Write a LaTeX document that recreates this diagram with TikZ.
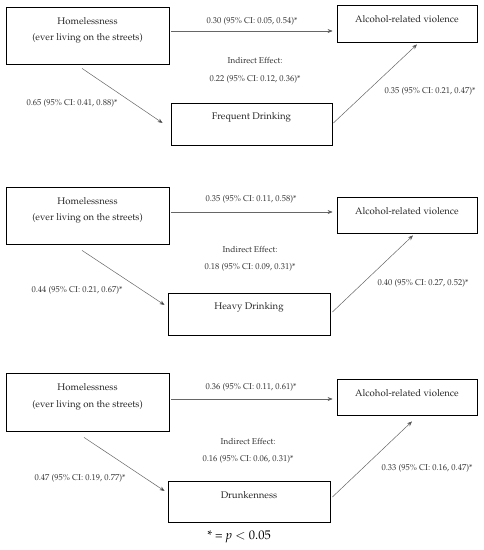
\documentclass[tikz,border=0pt]{standalone}
\usepackage[T1]{fontenc}
\usepackage{mathpazo}
\usetikzlibrary{arrows.meta}
\begin{document}
\begin{tikzpicture}[x=1pt,y=-1pt,
  box/.style={draw=black,line width=0.8pt,inner sep=0pt},
  btxt/.style={font=\fontsize{9.6}{11}\selectfont,inner sep=0pt,text=black!85},
  lab/.style={font=\fontsize{8.5}{10}\selectfont,inner sep=0pt,text=black!80},
  arr/.style={draw=black!60,line width=0.5pt,-{Stealth[length=5pt,width=4pt,fill=black]}}]
\useasboundingbox (0,0) rectangle (483,550);
% Panel 1
\node[box,minimum width=163,minimum height=57] (hom1) at (87.5,35.5) {};
\node[box,minimum width=140,minimum height=37] (alc1) at (407,23.5) {};
\node[box,minimum width=161,minimum height=42] (mid1) at (251.5,124) {};
\node[btxt] (h1a) at (87.5,21) {Homelessness};
\node[btxt] (h1b) at (87.5,38) {(ever living on the streets)};
\node[btxt] (a1t) at (407,19) {Alcohol-related violence};
\node[btxt] (m1t) at (251.5,117) {Frequent Drinking};
\draw[arr] ([shift={(2,-4.5)}]hom1.east) -- ([shift={(-4,7.5)}]alc1.west);
\draw[arr] ([shift={(-5.5,4)}]hom1.south) -- ([shift={(-8,-1)}]mid1.west);
\draw[arr] ([shift={(1,-1)}]mid1.east) -- ([shift={(10,2)}]alc1.south);
\node[lab] (l1a) at (252,21) {0.30 (95\% CI: 0.05, 0.54)*};
\node[lab] (l1b) at (72,103) {0.65 (95\% CI: 0.41, 0.88)*};
\node[lab] (l1c) at (430,91) {0.35 (95\% CI: 0.21, 0.47)*};
\node[lab] (i1a) at (255,61) {Indirect Effect:};
\node[lab] (i1b) at (255,79) {0.22 (95\% CI: 0.12, 0.36)*};
% Panel 2
\node[box,minimum width=163,minimum height=57] (hom2) at (87.5,215.5) {};
\node[box,minimum width=140,minimum height=36] (alc2) at (407,215) {};
\node[box,minimum width=162,minimum height=42] (mid2) at (249,314) {};
\node[btxt] (h2a) at (87.5,201) {Homelessness};
\node[btxt] (h2b) at (87.5,218) {(ever living on the streets)};
\node[btxt] (a2t) at (407,211) {Alcohol-related violence};
\node[btxt] (m2t) at (249,307) {Heavy Drinking};
\draw[arr] ([shift={(2,-3.5)}]hom2.east) -- ([shift={(-4,-3)}]alc2.west);
\draw[arr] ([shift={(-5.5,6)}]hom2.south) -- ([shift={(-3,-9)}]mid2.west);
\draw[arr] ([shift={(2,-2)}]mid2.east) -- ([shift={(6,2)}]alc2.south);
\node[lab] (l2a) at (251,199) {0.35 (95\% CI: 0.11, 0.58)*};
\node[lab] (l2b) at (77,290) {0.44 (95\% CI: 0.21, 0.67)*};
\node[lab] (l2c) at (423,283) {0.40 (95\% CI: 0.27, 0.52)*};
\node[lab] (i2a) at (250,250) {Indirect Effect:};
\node[lab] (i2b) at (250,267) {0.18 (95\% CI: 0.09, 0.31)*};
% Panel 3
\node[box,minimum width=163,minimum height=58] (hom3) at (87.5,402) {};
\node[box,minimum width=140,minimum height=36] (alc3) at (407,397) {};
\node[box,minimum width=162,minimum height=41] (mid3) at (249,501.5) {};
\node[btxt] (h3a) at (87.5,387) {Homelessness};
\node[btxt] (h3b) at (87.5,405) {(ever living on the streets)};
\node[btxt] (a3t) at (407,393) {Alcohol-related violence};
\node[btxt] (m3t) at (249,495) {Drunkenness};
\draw[arr] ([shift={(2,-3)}]hom3.east) -- ([shift={(-4,2)}]alc3.west);
\draw[arr] ([shift={(-3.5,6)}]hom3.south) -- ([shift={(-3,-10.5)}]mid3.west);
\draw[arr] ([shift={(2,-4.5)}]mid3.east) -- ([shift={(5,6)}]alc3.south);
\node[lab] (l3a) at (251,387) {0.36 (95\% CI: 0.11, 0.61)*};
\node[lab] (l3b) at (80,478) {0.47 (95\% CI: 0.19, 0.77)*};
\node[lab] (l3c) at (427,468) {0.33 (95\% CI: 0.16, 0.47)*};
\node[lab] (i3a) at (248,442) {Indirect Effect:};
\node[lab] (i3b) at (248,459) {0.16 (95\% CI: 0.06, 0.31)*};
\node[font=\fontsize{12.5}{14}\selectfont,inner sep=0pt] (note) at (239,537) {* = \textit{p} $<$ 0.05};
\end{tikzpicture}
\end{document}
